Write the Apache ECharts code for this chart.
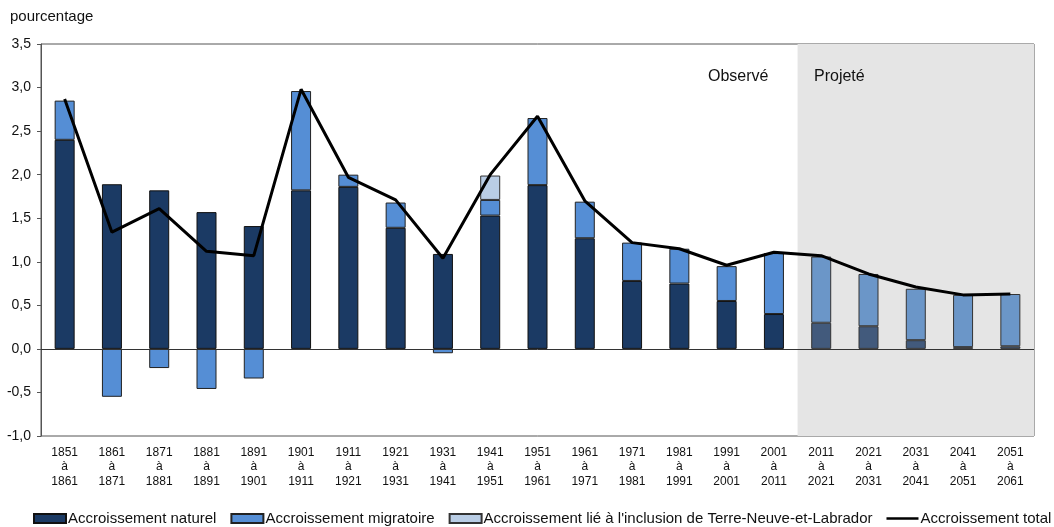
<!DOCTYPE html>
<html>
<head>
<meta charset="utf-8">
<script src="https://cdn.jsdelivr.net/npm/echarts@6/dist/echarts.min.js"></script>
<style>html,body{margin:0;padding:0;background:#fff}#c{width:1054px;height:527px}</style>
</head>
<body>
<div id="c"></div>
<script>
const startYears = [1851,1861,1871,1881,1891,1901,1911,1921,1931,1941,1951,1961,1971,1981,1991,2001,2011,2021,2031,2041,2051];
const endYears   = [1861,1871,1881,1891,1901,1911,1921,1931,1941,1951,1961,1971,1981,1991,2001,2011,2021,2031,2041,2051,2061];
const natural    = [2.40,1.89,1.82,1.57,1.41,1.82,1.86,1.39,1.09,1.53,1.88,1.27,0.78,0.75,0.55,0.40,0.30,0.26,0.10,0.02,0.03];
const migratory  = [0.45,-0.55,-0.22,-0.46,-0.34,1.14,0.14,0.29,-0.05,0.18,0.77,0.42,0.44,0.40,0.40,0.70,0.76,0.60,0.59,0.60,0.60];
const newfoundland = [0,0,0,0,0,0,0,0,0,0.28,0,0,0,0,0,0,0,0,0,0,0];
const total      = [2.87,1.34,1.61,1.12,1.07,2.98,1.97,1.71,1.04,2.00,2.67,1.70,1.22,1.15,0.96,1.11,1.07,0.86,0.71,0.62,0.63];
const projectedStart = 16;
const yTicks = {min:-1, max:3.5, interval:0.5};

const categories = startYears.map((s,i)=> s + '\nà\n' + endYears[i]);
const FONT = 'Liberation Sans, Arial, sans-serif';

function items(vals, projCol){
  return vals.map((v,i)=> i>=projectedStart ? {value:v, itemStyle:{color:projCol, borderColor:'#333'}} : v);
}

const chart = echarts.init(document.getElementById('c'));
chart.setOption({
  animation:false,
  textStyle:{fontFamily:FONT},
  grid:{left:41, right:20, top:44, bottom:91, show:true, borderColor:'#555', borderWidth:1, backgroundColor:'transparent'},
  xAxis:[{
    type:'category', data:categories,
    axisLine:{show:false}, axisTick:{show:false},
    axisLabel:{fontFamily:FONT, fontSize:12, color:'#111', lineHeight:14.5, margin:9, interval:0}
  },{
    type:'value', min:0, max:categories.length, show:false
  }],
  yAxis:{
    type:'value', min:yTicks.min, max:yTicks.max, interval:yTicks.interval,
    axisLine:{show:true, lineStyle:{color:'#555'}},
    axisTick:{show:true, length:4, lineStyle:{color:'#555'}},
    splitLine:{show:false},
    axisLabel:{fontFamily:FONT, fontSize:14, color:'#111', margin:10,
      formatter:v=>v.toFixed(1).replace('.',',')}
  },
  legend:{
    bottom:-1, left:33, width:1040, padding:[2,0,2,0],
    itemWidth:32, itemHeight:9, itemGap:14, icon:'rect',
    textStyle:{fontFamily:FONT, fontSize:15, color:'#111', padding:[0,0,0,-3]},
    data:[
      {name:'Accroissement naturel'},
      {name:'Accroissement migratoire'},
      {name:"Accroissement lié à l'inclusion de Terre-Neuve-et-Labrador"},
      {name:'Accroissement total', icon:'path://M0,0M0,9M0,3.2H32V5.8H0Z'}
    ]
  },
  graphic:[
    {type:'text', z:100, left:10, top:9, style:{text:'pourcentage', font:'15px '+FONT, fill:'#111'}},
    {type:'text', z:100, left:708, top:69, style:{text:'Observé', font:'16px '+FONT, fill:'#111'}},
    {type:'text', z:100, left:814, top:69, style:{text:'Projeté', font:'16px '+FONT, fill:'#111'}}
  ],
  series:[
    {type:'line', xAxisIndex:1, data:[], z:0, silent:true,
     markArea:{silent:true, itemStyle:{color:'#e5e5e5'}, data:[[{xAxis:projectedStart},{xAxis:categories.length}]]}},
    {name:'Accroissement naturel', type:'bar', stack:'a', barWidth:20, z:2,
     itemStyle:{color:'#1b3a64', borderColor:'#111', borderWidth:1},
     data:items(natural,'#425a7c'),
     markLine:{silent:true, symbol:'none', label:{show:false}, lineStyle:{color:'#333', width:1, type:'solid'}, data:[{yAxis:0}]}},
    {name:'Accroissement migratoire', type:'bar', stack:'a', barWidth:20, z:2,
     itemStyle:{color:'#558ed5', borderColor:'#222', borderWidth:1},
     data:items(migratory,'#6b96c8')},
    {name:"Accroissement lié à l'inclusion de Terre-Neuve-et-Labrador", type:'bar', stack:'a', barWidth:20, z:2,
     itemStyle:{color:'#b9cde5', borderColor:'#333', borderWidth:1},
     data:newfoundland.map(v=> v===0 ? null : v)},
    {name:'Accroissement total', type:'line', symbol:'none', z:5,
     lineStyle:{color:'#000', width:3}, itemStyle:{color:'#000'},
     data:total}
  ]
});
</script>
</body>
</html>
